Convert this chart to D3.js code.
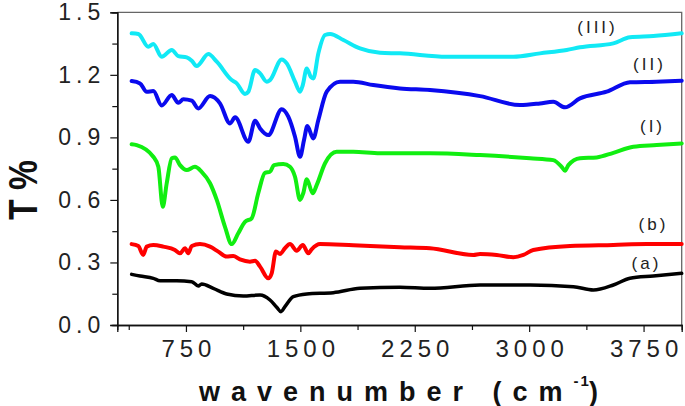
<!DOCTYPE html>
<html>
<head>
<meta charset="utf-8">
<script src="https://cdn.jsdelivr.net/npm/d3@7"></script>
<style>
  body { margin: 0; background: #fff; }
  text { font-family: "Liberation Sans", Arial, sans-serif; }
</style>
</head>
<body>
<script>
// FTIR spectra (wavenumber in cm-1, T %)
const wnIII = [394, 438, 503, 536, 591, 657, 700, 755, 788, 820, 897, 952, 1050, 1083, 1137, 1159, 1203, 1236, 1280, 1301, 1378, 1411, 1465, 1498, 1516, 1542, 1568, 1585, 1618, 1662, 1695, 1782, 1891, 2022, 2153, 2460, 2896, 3071, 3246, 3333, 3552, 3661, 3814, 4000];
const tIII  = [1.399, 1.396, 1.335, 1.348, 1.287, 1.319, 1.290, 1.284, 1.268, 1.242, 1.300, 1.263, 1.175, 1.159, 1.108, 1.119, 1.223, 1.207, 1.167, 1.175, 1.274, 1.255, 1.167, 1.119, 1.151, 1.231, 1.191, 1.183, 1.303, 1.391, 1.396, 1.367, 1.327, 1.306, 1.303, 1.287, 1.287, 1.303, 1.319, 1.332, 1.351, 1.380, 1.386, 1.399];

const wnII = [394, 449, 493, 536, 591, 657, 700, 733, 788, 831, 908, 973, 1039, 1072, 1159, 1203, 1236, 1290, 1378, 1421, 1465, 1498, 1524, 1546, 1585, 1618, 1673, 1760, 1847, 1978, 2153, 2350, 2678, 2940, 3071, 3158, 3235, 3333, 3508, 3661, 3836, 4000];
const tII  = [1.170, 1.159, 1.119, 1.122, 1.053, 1.103, 1.066, 1.083, 1.076, 1.039, 1.098, 1.063, 0.967, 0.996, 0.879, 0.980, 0.943, 0.911, 1.035, 0.999, 0.903, 0.807, 0.887, 0.954, 0.895, 0.983, 1.119, 1.167, 1.167, 1.151, 1.135, 1.127, 1.098, 1.055, 1.063, 1.071, 1.044, 1.087, 1.119, 1.164, 1.167, 1.172];

const wnI = [394, 427, 536, 569, 598, 624, 657, 678, 711, 755, 809, 853, 908, 952, 1006, 1050, 1093, 1137, 1181, 1224, 1268, 1301, 1327, 1388, 1432, 1465, 1498, 1519, 1542, 1581, 1607, 1662, 1738, 1847, 2022, 2350, 2678, 3006, 3158, 3213, 3235, 3257, 3333, 3443, 3552, 3683, 3836, 4000];
const tI  = [0.867, 0.863, 0.807, 0.759, 0.567, 0.680, 0.800, 0.804, 0.767, 0.743, 0.759, 0.735, 0.680, 0.600, 0.471, 0.388, 0.440, 0.495, 0.512, 0.632, 0.730, 0.735, 0.767, 0.772, 0.759, 0.711, 0.600, 0.632, 0.699, 0.632, 0.671, 0.776, 0.831, 0.831, 0.824, 0.824, 0.815, 0.800, 0.791, 0.759, 0.740, 0.767, 0.800, 0.804, 0.826, 0.855, 0.863, 0.871];

const wnB = [394, 438, 470, 493, 536, 602, 678, 711, 744, 765, 788, 842, 908, 962, 1017, 1060, 1104, 1170, 1203, 1236, 1290, 1312, 1340, 1367, 1399, 1432, 1476, 1516, 1552, 1574, 1629, 1847, 2153, 2350, 2634, 2678, 2787, 2896, 2962, 3027, 3268, 3552, 3771, 4000];
const tB  = [0.388, 0.379, 0.336, 0.376, 0.384, 0.376, 0.360, 0.344, 0.368, 0.344, 0.379, 0.388, 0.376, 0.352, 0.328, 0.331, 0.315, 0.304, 0.308, 0.280, 0.224, 0.248, 0.352, 0.341, 0.368, 0.388, 0.356, 0.384, 0.344, 0.363, 0.388, 0.382, 0.373, 0.368, 0.336, 0.341, 0.336, 0.325, 0.336, 0.360, 0.379, 0.384, 0.388, 0.388];

const wnA = [394, 449, 536, 580, 689, 788, 831, 853, 929, 1017, 1126, 1236, 1301, 1345, 1373, 1399, 1454, 1542, 1716, 1891, 2153, 2350, 2678, 3006, 3290, 3421, 3552, 3661, 3814, 4000];
const tA  = [0.243, 0.235, 0.224, 0.212, 0.212, 0.208, 0.187, 0.197, 0.176, 0.149, 0.139, 0.144, 0.120, 0.085, 0.064, 0.088, 0.136, 0.149, 0.155, 0.176, 0.181, 0.176, 0.192, 0.192, 0.184, 0.168, 0.192, 0.224, 0.235, 0.248];

const seriesNames = ["(a)", "(b)", "(I)", "(II)", "(III)"];
const seriesColors = ["#000000", "#ff0000", "#11ee11", "#0a0aee", "#11e9f5"];
const labelPos = [[645, 269], [652, 230], [651, 132], [648, 70], [596, 33]]; // pixel spots of the curve labels

const yTicks = [0, 0.3, 0.6, 0.9, 1.2, 1.5];
const yMinor = [0.15, 0.45, 0.75, 1.05, 1.35];
const xTicks = [750, 1500, 2250, 3000, 3750];
const xMinor = [375, 1125, 1875, 2625, 3375];

const series = [[wnA, tA], [wnB, tB], [wnI, tI], [wnII, tII], [wnIII, tIII]]
    .map(([w, t], i) => ({
        name: seriesNames[i],
        color: seriesColors[i],
        values: w.map((d, j) => ({ wn: d, t: t[j] }))
    }));

const svgWidth = 685;
const svgHeight = 406;
const margin = { top: 12.3, right: 3.3, bottom: 81, left: 117.3 };

const svg = d3.select('body')
    .append('svg')
    .attr('width', svgWidth)
    .attr('height', svgHeight);

const xScale = d3.scaleLinear()
    .domain([300, 4000])
    .range([margin.left, svgWidth - margin.right]);

const yScale = d3.scaleLinear()
    .domain([0, 1.5])
    .range([svgHeight - margin.bottom, margin.top]);

// frame (top and right)
svg.append('path')
    .attr('d', `M${margin.left},${margin.top}H${svgWidth - margin.right}V${svgHeight - margin.bottom}`)
    .attr('fill', 'none')
    .attr('stroke', '#666')
    .attr('stroke-width', 1.3);

// curves
const line = d3.line()
    .x(d => xScale(d.wn))
    .y(d => yScale(d.t))
    .curve(d3.curveMonotoneX);

svg.selectAll('.curve')
    .data(series)
    .enter()
    .append('path')
    .attr('class', 'curve')
    .attr('d', d => line(d.values))
    .attr('fill', 'none')
    .attr('stroke', d => d.color)
    .attr('stroke-width', d => d.name === '(a)' ? 3.5 : 4)
    .attr('stroke-linejoin', 'round')
    .attr('stroke-linecap', 'round');

// curve labels
svg.selectAll('.lbl')
    .data(series)
    .enter()
    .append('text')
    .attr('x', (d, i) => labelPos[i][0] + 1.5)
    .attr('y', (d, i) => labelPos[i][1])
    .attr('text-anchor', 'middle')
    .attr('font-size', 17)
    .attr('letter-spacing', 3)
    .attr('fill', '#222')
    .text(d => d.name);

// X-axis
const xAxis = svg.append('g')
    .attr('transform', `translate(0,${svgHeight - margin.bottom})`);
xAxis.call(d3.axisBottom(xScale).tickValues(xMinor).tickSize(5).tickFormat(''));
xAxis.call(g => g.append('g').call(d3.axisBottom(xScale).tickValues(xTicks).tickSize(7).tickPadding(8).tickFormat(d3.format('d'))));
xAxis.selectAll('.domain').attr('stroke', '#111').attr('stroke-width', 1.3);
xAxis.selectAll('.tick line').attr('stroke', '#111').attr('stroke-width', 1.2);
xAxis.selectAll('text')
    .attr('font-size', 24)
    .attr('letter-spacing', 5)
    .attr('dx', 2.5)
    .attr('fill', '#222');

// Y-axis
const yAxis = svg.append('g')
    .attr('transform', `translate(${margin.left},0)`);
yAxis.call(d3.axisLeft(yScale).tickValues(yMinor).tickSize(5).tickFormat(''));
yAxis.call(g => g.append('g').call(d3.axisLeft(yScale).tickValues(yTicks).tickSize(7).tickPadding(10).tickFormat(d3.format('.1f'))));
yAxis.selectAll('.domain').attr('stroke', '#111').attr('stroke-width', 1.3);
yAxis.selectAll('.tick line').attr('stroke', '#111').attr('stroke-width', 1.2);
yAxis.selectAll('text')
    .attr('font-size', 23)
    .attr('letter-spacing', 5)
    .attr('dx', 5)
    .attr('fill', '#222');

// axis titles
const xTitle = svg.append('text')
    .attr('x', 199)
    .attr('y', 401)
    .attr('font-size', 27)
    .attr('font-weight', 'bold')
    .attr('letter-spacing', 11)
    .attr('fill', '#111');
xTitle.append('tspan').text('wavenumber (cm');
xTitle.append('tspan').attr('dy', -15).attr('dx', 0).attr('font-size', 15).attr('letter-spacing', 2).text('-1');
xTitle.append('tspan').attr('dy', 15).attr('dx', -2).text(')');

svg.append('text')
    .attr('transform', 'translate(37,190) rotate(-90)')
    .attr('text-anchor', 'middle')
    .attr('font-size', 40)
    .attr('font-weight', 'bold')
    .attr('textLength', 60)
    .attr('lengthAdjust', 'spacingAndGlyphs')
    .attr('fill', '#111')
    .text('T %');
</script>
</body>
</html>
